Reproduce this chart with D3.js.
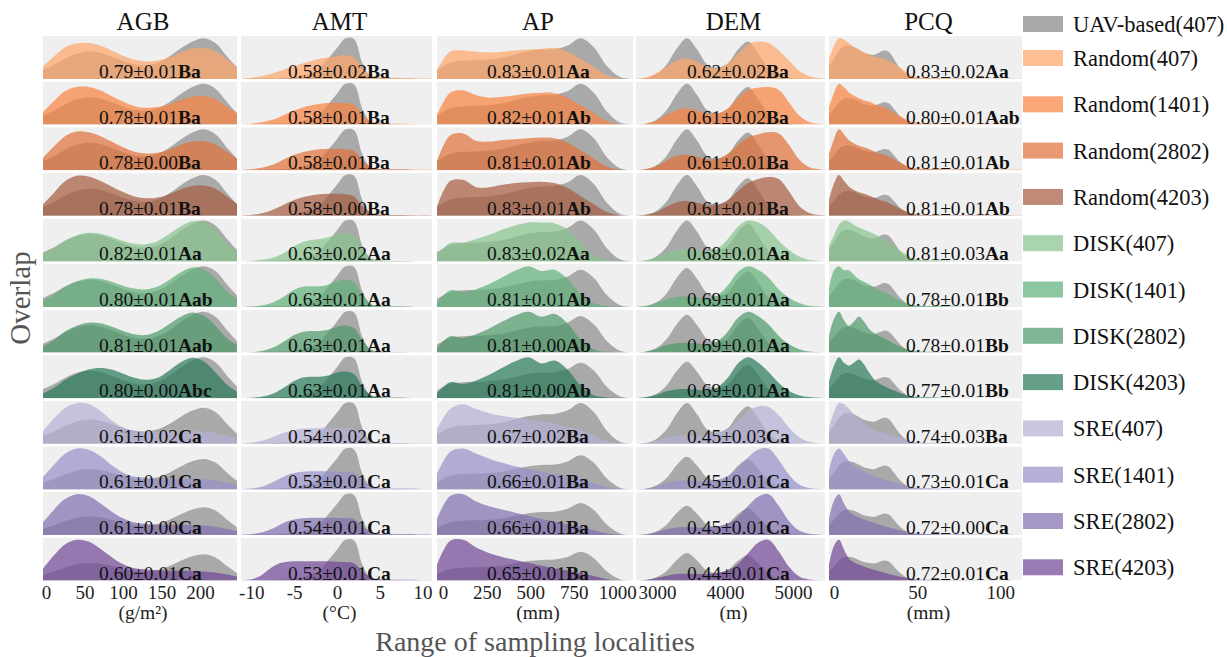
<!DOCTYPE html>
<html>
<head>
<meta charset="utf-8">
<script src="https://cdn.jsdelivr.net/npm/d3@7"></script>
<style>
  body { margin: 0; background: #fff; }
  svg { display: block; font-family: "Liberation Serif", "Times New Roman", serif; }
</style>
</head>
<body>
<div id="chart"></div>
<script>
// ---- data (density curves, arbitrary units) ----
const variables = ["AGB", "AMT", "AP", "DEM", "PCQ"];
const units = ["(g/m²)", "(°C)", "(mm)", "(m)", "(mm)"];
const groups = ["Random(407)", "Random(1401)", "Random(2802)", "Random(4203)",
  "DISK(407)", "DISK(1401)", "DISK(2802)", "DISK(4203)",
  "SRE(407)", "SRE(1401)", "SRE(2802)", "SRE(4203)"];
const referenceName = "UAV-based(407)";

const agbDomain = [-4, 248];
const agbTicks = [0, 50, 100, 150, 200];
const agbX = [-4, 10, 25, 40, 55, 70, 85, 100, 115, 130, 145, 160, 175, 190, 205, 220, 235, 248];
const agbUAV = [0.22, 0.34, 0.5, 0.62, 0.67, 0.64, 0.55, 0.44, 0.36, 0.34, 0.4, 0.55, 0.75, 0.92, 1.0, 0.88, 0.55, 0.28];
const agbSeries = [
  [0.3, 0.55, 0.78, 0.87, 0.88, 0.82, 0.7, 0.57, 0.47, 0.43, 0.45, 0.53, 0.65, 0.74, 0.76, 0.68, 0.48, 0.3],
  [0.3, 0.57, 0.82, 0.92, 0.92, 0.84, 0.7, 0.56, 0.45, 0.41, 0.43, 0.5, 0.6, 0.68, 0.7, 0.62, 0.44, 0.28],
  [0.3, 0.58, 0.84, 0.95, 0.93, 0.84, 0.7, 0.56, 0.45, 0.41, 0.43, 0.5, 0.62, 0.7, 0.71, 0.63, 0.45, 0.28],
  [0.28, 0.56, 0.85, 0.98, 0.96, 0.86, 0.72, 0.58, 0.47, 0.43, 0.45, 0.53, 0.65, 0.73, 0.74, 0.66, 0.47, 0.29],
  [0.17, 0.33, 0.52, 0.64, 0.7, 0.68, 0.6, 0.5, 0.43, 0.42, 0.5, 0.67, 0.86, 0.98, 0.97, 0.78, 0.45, 0.22],
  [0.15, 0.3, 0.5, 0.63, 0.7, 0.69, 0.62, 0.52, 0.45, 0.43, 0.5, 0.66, 0.85, 0.97, 0.92, 0.7, 0.38, 0.2],
  [0.14, 0.3, 0.52, 0.66, 0.73, 0.72, 0.64, 0.53, 0.45, 0.43, 0.52, 0.7, 0.88, 0.98, 0.9, 0.66, 0.35, 0.18],
  [0.12, 0.25, 0.45, 0.6, 0.7, 0.74, 0.7, 0.6, 0.5, 0.45, 0.5, 0.68, 0.88, 0.99, 0.9, 0.63, 0.33, 0.16],
  [0.35, 0.7, 1.0, 1.13, 1.1, 0.92, 0.65, 0.45, 0.36, 0.33, 0.32, 0.33, 0.34, 0.35, 0.34, 0.3, 0.22, 0.15],
  [0.4, 0.8, 1.18, 1.34, 1.3, 1.1, 0.8, 0.55, 0.42, 0.38, 0.36, 0.35, 0.35, 0.34, 0.33, 0.3, 0.22, 0.15],
  [0.45, 0.9, 1.3, 1.47, 1.4, 1.15, 0.85, 0.6, 0.45, 0.4, 0.37, 0.36, 0.36, 0.35, 0.34, 0.3, 0.22, 0.15],
  [0.45, 0.95, 1.38, 1.55, 1.48, 1.22, 0.9, 0.62, 0.47, 0.42, 0.39, 0.37, 0.37, 0.36, 0.35, 0.31, 0.23, 0.15]
];
const agbLabels = [["0.79±0.01", "Ba"], ["0.78±0.01", "Ba"], ["0.78±0.00", "Ba"], ["0.78±0.01", "Ba"],
  ["0.82±0.01", "Aa"], ["0.80±0.01", "Aab"], ["0.81±0.01", "Aab"], ["0.80±0.00", "Abc"],
  ["0.61±0.02", "Ca"], ["0.61±0.01", "Ca"], ["0.61±0.00", "Ca"], ["0.60±0.01", "Ca"]];

const amtDomain = [-11.2, 11.1];
const amtTicks = [-10, -5, 0, 5, 10];
const amtX = [-11, -10, -9, -8, -7, -6, -5, -4, -3, -2, -1, 0, 1, 2, 3, 4, 5, 6, 7, 8, 9, 10, 11];
const amtUAV = [0, 0.005, 0.01, 0.015, 0.02, 0.03, 0.05, 0.08, 0.14, 0.25, 0.48, 0.72, 0.95, 0.93, 0.35, 0.05, 0.02, 0.01, 0.01, 0.005, 0, 0, 0];
const amtSeries = [
  [0.01, 0.03, 0.06, 0.1, 0.16, 0.23, 0.3, 0.36, 0.42, 0.47, 0.5, 0.53, 0.55, 0.5, 0.25, 0.08, 0.04, 0.03, 0.03, 0.02, 0.02, 0.01, 0.01],
  [0.01, 0.02, 0.05, 0.09, 0.15, 0.24, 0.33, 0.4, 0.45, 0.48, 0.5, 0.5, 0.5, 0.46, 0.22, 0.07, 0.03, 0.02, 0.02, 0.02, 0.01, 0.01, 0.01],
  [0.01, 0.02, 0.05, 0.1, 0.17, 0.27, 0.36, 0.42, 0.46, 0.49, 0.5, 0.5, 0.49, 0.45, 0.22, 0.07, 0.03, 0.02, 0.02, 0.02, 0.01, 0.01, 0.01],
  [0.01, 0.02, 0.05, 0.1, 0.18, 0.28, 0.37, 0.43, 0.47, 0.5, 0.51, 0.51, 0.5, 0.45, 0.22, 0.07, 0.03, 0.02, 0.02, 0.02, 0.01, 0.01, 0.01],
  [0, 0.01, 0.03, 0.06, 0.12, 0.22, 0.35, 0.45, 0.5, 0.52, 0.56, 0.62, 0.65, 0.6, 0.3, 0.08, 0.02, 0.01, 0.01, 0.01, 0, 0, 0],
  [0, 0.01, 0.03, 0.07, 0.15, 0.27, 0.4, 0.47, 0.48, 0.48, 0.52, 0.6, 0.64, 0.58, 0.28, 0.07, 0.02, 0.01, 0.01, 0.01, 0, 0, 0],
  [0, 0.01, 0.03, 0.08, 0.16, 0.28, 0.41, 0.48, 0.5, 0.5, 0.53, 0.6, 0.63, 0.57, 0.27, 0.07, 0.02, 0.01, 0.01, 0.01, 0, 0, 0],
  [0, 0.01, 0.03, 0.07, 0.15, 0.27, 0.4, 0.48, 0.5, 0.5, 0.53, 0.6, 0.62, 0.56, 0.26, 0.07, 0.02, 0.01, 0.01, 0.01, 0, 0, 0],
  [0.01, 0.03, 0.06, 0.12, 0.2, 0.27, 0.32, 0.35, 0.36, 0.37, 0.37, 0.37, 0.37, 0.35, 0.2, 0.06, 0.03, 0.02, 0.02, 0.02, 0.01, 0.01, 0.01],
  [0.01, 0.02, 0.05, 0.12, 0.22, 0.32, 0.38, 0.41, 0.42, 0.42, 0.42, 0.41, 0.4, 0.38, 0.22, 0.07, 0.03, 0.02, 0.02, 0.02, 0.02, 0.01, 0.01],
  [0.01, 0.02, 0.05, 0.11, 0.2, 0.3, 0.36, 0.39, 0.4, 0.4, 0.4, 0.4, 0.39, 0.37, 0.2, 0.06, 0.03, 0.02, 0.02, 0.02, 0.02, 0.01, 0.01],
  [0.01, 0.03, 0.1, 0.25, 0.38, 0.43, 0.45, 0.45, 0.45, 0.45, 0.45, 0.44, 0.43, 0.4, 0.22, 0.07, 0.03, 0.02, 0.02, 0.02, 0.02, 0.01, 0.01]
];
const amtLabels = [["0.58±0.02", "Ba"], ["0.58±0.01", "Ba"], ["0.58±0.01", "Ba"], ["0.58±0.00", "Ba"],
  ["0.63±0.02", "Aa"], ["0.63±0.01", "Aa"], ["0.63±0.01", "Aa"], ["0.63±0.01", "Aa"],
  ["0.54±0.02", "Ca"], ["0.53±0.01", "Ca"], ["0.54±0.01", "Ca"], ["0.53±0.01", "Ca"]];

const apDomain = [-35, 1090];
const apTicks = [0, 250, 500, 750, 1000];
const apX = [-35, 40, 115, 190, 265, 340, 415, 490, 565, 640, 715, 790, 865, 940, 1015, 1090];
const apUAV = [0.22, 0.4, 0.45, 0.46, 0.48, 0.52, 0.6, 0.68, 0.72, 0.73, 0.82, 1.0, 0.78, 0.32, 0.05, 0];
const apSeries = [
  [0.22, 0.67, 0.7, 0.67, 0.65, 0.67, 0.7, 0.72, 0.74, 0.76, 0.67, 0.49, 0.3, 0.09, 0.01, 0],
  [0.22, 0.78, 0.84, 0.72, 0.66, 0.68, 0.72, 0.76, 0.78, 0.77, 0.66, 0.48, 0.28, 0.09, 0.01, 0],
  [0.22, 0.85, 0.9, 0.72, 0.7, 0.74, 0.76, 0.78, 0.8, 0.78, 0.67, 0.48, 0.28, 0.09, 0.01, 0],
  [0.22, 0.85, 0.88, 0.7, 0.7, 0.76, 0.8, 0.82, 0.83, 0.8, 0.68, 0.48, 0.28, 0.09, 0.01, 0],
  [0.15, 0.45, 0.46, 0.55, 0.65, 0.78, 0.88, 0.95, 0.95, 0.93, 0.78, 0.45, 0.15, 0.04, 0.01, 0],
  [0.12, 0.45, 0.4, 0.48, 0.62, 0.8, 0.98, 1.1, 0.97, 1.0, 0.75, 0.35, 0.1, 0.03, 0.01, 0],
  [0.12, 0.45, 0.4, 0.5, 0.66, 0.85, 1.02, 1.12, 0.98, 1.06, 0.8, 0.35, 0.08, 0.02, 0.01, 0],
  [0.14, 0.45, 0.4, 0.5, 0.66, 0.86, 1.04, 1.15, 0.98, 1.06, 0.8, 0.35, 0.08, 0.02, 0.01, 0],
  [0.35, 0.85, 0.97, 0.85, 0.75, 0.68, 0.64, 0.6, 0.55, 0.5, 0.42, 0.33, 0.2, 0.07, 0.01, 0],
  [0.45, 1.1, 1.2, 1.05, 0.9, 0.78, 0.68, 0.6, 0.52, 0.46, 0.38, 0.3, 0.18, 0.06, 0.01, 0],
  [0.5, 1.22, 1.28, 1.05, 0.9, 0.8, 0.7, 0.6, 0.5, 0.42, 0.34, 0.26, 0.16, 0.05, 0.01, 0],
  [0.55, 1.38, 1.42, 1.15, 0.95, 0.82, 0.72, 0.62, 0.52, 0.43, 0.35, 0.26, 0.16, 0.05, 0.01, 0]
];
const apLabels = [["0.83±0.01", "Aa"], ["0.82±0.01", "Ab"], ["0.81±0.01", "Ab"], ["0.83±0.01", "Ab"],
  ["0.83±0.02", "Aa"], ["0.81±0.01", "Ab"], ["0.81±0.00", "Ab"], ["0.81±0.00", "Ab"],
  ["0.67±0.02", "Ba"], ["0.66±0.01", "Ba"], ["0.66±0.01", "Ba"], ["0.65±0.01", "Ba"]];

const demDomain = [2690, 5470];
const demTicks = [3000, 4000, 5000];
const demX = [2690, 2840, 2990, 3140, 3290, 3440, 3590, 3740, 3890, 4040, 4190, 4340, 4490, 4640, 4790, 4940, 5090, 5240, 5390, 5470];
const demUAV = [0, 0.02, 0.12, 0.35, 0.75, 1.0, 0.72, 0.35, 0.28, 0.38, 0.72, 0.92, 0.62, 0.25, 0.06, 0.02, 0.01, 0, 0, 0];
const demSeries = [
  [0, 0.04, 0.14, 0.3, 0.45, 0.5, 0.42, 0.28, 0.26, 0.38, 0.62, 0.85, 0.92, 0.88, 0.7, 0.45, 0.2, 0.07, 0.02, 0.01],
  [0, 0.03, 0.1, 0.24, 0.36, 0.4, 0.34, 0.27, 0.27, 0.4, 0.65, 0.85, 0.9, 0.92, 0.85, 0.55, 0.22, 0.06, 0.02, 0.01],
  [0, 0.03, 0.1, 0.24, 0.35, 0.38, 0.33, 0.27, 0.28, 0.4, 0.62, 0.8, 0.88, 0.93, 0.9, 0.62, 0.26, 0.07, 0.02, 0.01],
  [0, 0.03, 0.09, 0.22, 0.33, 0.36, 0.32, 0.26, 0.27, 0.38, 0.6, 0.8, 0.9, 0.95, 0.9, 0.6, 0.24, 0.07, 0.02, 0.01],
  [0, 0.03, 0.1, 0.22, 0.28, 0.3, 0.28, 0.25, 0.32, 0.55, 0.85, 1.0, 0.95, 0.78, 0.5, 0.28, 0.12, 0.04, 0.01, 0],
  [0, 0.03, 0.1, 0.2, 0.26, 0.27, 0.25, 0.22, 0.3, 0.55, 0.9, 1.05, 0.95, 0.75, 0.45, 0.24, 0.1, 0.03, 0.01, 0],
  [0, 0.03, 0.1, 0.2, 0.25, 0.26, 0.24, 0.22, 0.3, 0.55, 0.92, 1.08, 0.96, 0.74, 0.44, 0.22, 0.09, 0.03, 0.01, 0],
  [0, 0.03, 0.09, 0.19, 0.24, 0.25, 0.23, 0.21, 0.3, 0.56, 0.95, 1.12, 0.97, 0.72, 0.42, 0.2, 0.08, 0.03, 0.01, 0],
  [0, 0.02, 0.08, 0.16, 0.2, 0.2, 0.2, 0.22, 0.26, 0.35, 0.55, 0.8, 0.92, 0.9, 0.7, 0.4, 0.16, 0.05, 0.01, 0],
  [0, 0.03, 0.1, 0.2, 0.26, 0.27, 0.26, 0.26, 0.3, 0.42, 0.65, 0.98, 1.22, 1.25, 0.9, 0.45, 0.15, 0.04, 0.01, 0],
  [0, 0.03, 0.1, 0.2, 0.26, 0.27, 0.26, 0.26, 0.3, 0.4, 0.62, 1.0, 1.32, 1.4, 1.0, 0.48, 0.15, 0.04, 0.01, 0],
  [0, 0.03, 0.09, 0.18, 0.24, 0.25, 0.24, 0.24, 0.28, 0.38, 0.6, 1.0, 1.38, 1.48, 1.05, 0.5, 0.15, 0.04, 0.01, 0]
];
const demLabels = [["0.62±0.02", "Ba"], ["0.61±0.02", "Ba"], ["0.61±0.01", "Ba"], ["0.61±0.01", "Ba"],
  ["0.68±0.01", "Aa"], ["0.69±0.01", "Aa"], ["0.69±0.01", "Aa"], ["0.69±0.01", "Aa"],
  ["0.45±0.03", "Ca"], ["0.45±0.01", "Ca"], ["0.45±0.01", "Ca"], ["0.44±0.01", "Ca"]];

const pcqDomain = [-3, 113];
const pcqTicks = [0, 50, 100];
const pcqX = [-3, 0, 3, 6, 9, 12, 15, 18, 21, 24, 27, 30, 33, 36, 40, 45, 50, 60, 70, 80, 90, 100, 113];
const pcqUAV = [0.35, 0.55, 0.78, 0.9, 0.92, 0.88, 0.8, 0.72, 0.68, 0.66, 0.72, 0.78, 0.74, 0.55, 0.28, 0.08, 0.02, 0.01, 0, 0, 0, 0, 0];
const pcqSeries = [
  [0.55, 0.9, 1.12, 1.08, 0.98, 0.88, 0.8, 0.73, 0.67, 0.62, 0.58, 0.55, 0.5, 0.42, 0.3, 0.14, 0.05, 0.03, 0.02, 0.02, 0.01, 0.01, 0.01],
  [0.6, 1.1, 1.42, 1.3, 1.12, 1.0, 0.92, 0.85, 0.8, 0.72, 0.65, 0.6, 0.52, 0.42, 0.28, 0.14, 0.06, 0.04, 0.03, 0.03, 0.02, 0.02, 0.02],
  [0.6, 1.15, 1.5, 1.32, 1.1, 0.98, 0.9, 0.84, 0.78, 0.7, 0.62, 0.57, 0.5, 0.4, 0.27, 0.13, 0.06, 0.04, 0.03, 0.03, 0.02, 0.02, 0.02],
  [0.6, 1.2, 1.52, 1.3, 1.08, 0.96, 0.88, 0.82, 0.76, 0.68, 0.6, 0.55, 0.48, 0.38, 0.26, 0.12, 0.05, 0.03, 0.02, 0.02, 0.02, 0.02, 0.01],
  [0.45, 0.75, 1.05, 1.18, 1.15, 1.05, 0.98, 0.92, 0.86, 0.8, 0.72, 0.64, 0.55, 0.45, 0.3, 0.15, 0.06, 0.03, 0.02, 0.01, 0.01, 0.01, 0],
  [0.6, 1.2, 1.33, 1.2, 1.2, 1.05, 0.9, 0.82, 0.74, 0.64, 0.56, 0.5, 0.42, 0.32, 0.2, 0.1, 0.05, 0.03, 0.02, 0.01, 0.01, 0.01, 0],
  [0.6, 1.2, 1.45, 1.15, 0.95, 1.1, 1.28, 1.1, 0.85, 0.7, 0.6, 0.52, 0.42, 0.32, 0.2, 0.1, 0.05, 0.03, 0.02, 0.01, 0.01, 0.01, 0],
  [0.6, 1.2, 1.5, 1.3, 1.2, 1.3, 1.42, 1.25, 0.95, 0.7, 0.55, 0.45, 0.36, 0.28, 0.18, 0.09, 0.04, 0.03, 0.02, 0.01, 0.01, 0.01, 0],
  [0.5, 0.95, 1.22, 1.18, 1.05, 0.88, 0.75, 0.62, 0.5, 0.42, 0.36, 0.32, 0.28, 0.24, 0.18, 0.1, 0.05, 0.03, 0.02, 0.02, 0.01, 0.01, 0],
  [0.6, 1.15, 1.33, 1.15, 0.92, 0.78, 0.68, 0.58, 0.5, 0.44, 0.38, 0.33, 0.28, 0.23, 0.17, 0.1, 0.05, 0.03, 0.02, 0.02, 0.01, 0.01, 0],
  [0.6, 1.25, 1.48, 1.15, 0.85, 0.72, 0.64, 0.56, 0.5, 0.44, 0.38, 0.33, 0.28, 0.23, 0.17, 0.1, 0.05, 0.03, 0.02, 0.02, 0.01, 0.01, 0],
  [0.6, 1.35, 1.58, 1.2, 0.85, 0.7, 0.62, 0.55, 0.48, 0.42, 0.36, 0.31, 0.26, 0.21, 0.15, 0.09, 0.04, 0.03, 0.02, 0.02, 0.01, 0.01, 0]
];
const pcqLabels = [["0.83±0.02", "Aa"], ["0.80±0.01", "Aab"], ["0.81±0.01", "Ab"], ["0.81±0.01", "Ab"],
  ["0.81±0.03", "Aa"], ["0.78±0.01", "Bb"], ["0.78±0.01", "Bb"], ["0.77±0.01", "Bb"],
  ["0.74±0.03", "Ba"], ["0.73±0.01", "Ca"], ["0.72±0.00", "Ca"], ["0.72±0.01", "Ca"]];

// ---- styling ----
const uavColor = "#a9a9a9";
const groupColors = ["#fca66a", "#f88342", "#e0733b", "#a65e43",
  "#88c38d", "#62b07c", "#4f9a6a", "#2c7b5c",
  "#b4b0d4", "#9791c7", "#8370b0", "#734999"];
const fillAlpha = 0.72;
const panelFill = "#efefef";

// layout
const width = 1227, height = 657;
const panelX = [[43, 237], [241, 432], [437, 633], [636, 825], [829, 1022]];
const labelOffset = [56, 47, 50, 51, 77]; // px from panel left to the overlap label
const rowTop = 36, rowStep = 45.6, rowHeight = 43;

const columns = [
  { name: variables[0], unit: units[0], domain: agbDomain, ticks: agbTicks, x: agbX, uav: agbUAV, series: agbSeries, labels: agbLabels },
  { name: variables[1], unit: units[1], domain: amtDomain, ticks: amtTicks, x: amtX, uav: amtUAV, series: amtSeries, labels: amtLabels },
  { name: variables[2], unit: units[2], domain: apDomain, ticks: apTicks, x: apX, uav: apUAV, series: apSeries, labels: apLabels },
  { name: variables[3], unit: units[3], domain: demDomain, ticks: demTicks, x: demX, uav: demUAV, series: demSeries, labels: demLabels },
  { name: variables[4], unit: units[4], domain: pcqDomain, ticks: pcqTicks, x: pcqX, uav: pcqUAV, series: pcqSeries, labels: pcqLabels }
];

const svg = d3.select("#chart").append("svg")
    .attr("width", width)
    .attr("height", height)
    .attr("viewBox", [0, 0, width, height]);

svg.append("rect")
    .attr("width", width)
    .attr("height", height)
    .attr("fill", "#fff");

const defs = svg.append("defs");
const bottom = rowTop + (groups.length - 1) * rowStep + rowHeight;

columns.forEach((col, ci) => {
  const [x0, x1] = panelX[ci];
  const x = d3.scaleLinear().domain(col.domain).range([x0, x1]);
  const g = svg.append("g").attr("class", "col-" + col.name);

  // column header
  g.append("text")
      .attr("x", (x0 + x1) / 2 + 3)
      .attr("y", 30)
      .attr("text-anchor", "middle")
      .attr("font-size", 25)
      .attr("fill", "#111")
      .text(col.name);

  groups.forEach((grp, ri) => {
    const top = rowTop + ri * rowStep;
    const base = top + rowHeight;
    const vals = col.series[ri];
    const ymax = Math.max(d3.max(vals), d3.max(col.uav));
    const y = d3.scaleLinear().domain([0, ymax / 0.95]).range([base, top]);

    const clipId = `clip-${ci}-${ri}`;
    defs.append("clipPath")
        .attr("id", clipId)
      .append("rect")
        .attr("x", x0)
        .attr("y", top)
        .attr("width", x1 - x0)
        .attr("height", rowHeight);

    const cell = g.append("g").attr("clip-path", `url(#${clipId})`);

    cell.append("rect")
        .attr("x", x0)
        .attr("y", top)
        .attr("width", x1 - x0)
        .attr("height", rowHeight)
        .attr("fill", panelFill);

    const area = d3.area()
        .x(d => x(d[0]))
        .y0(base)
        .y1(d => y(Math.max(0, d[1])))
        .curve(d3.curveCatmullRom.alpha(0.5));

    // reference (UAV) density first, sampled group on top, semi-transparent
    cell.append("path")
        .datum(d3.zip(col.x, col.uav))
        .attr("d", area)
        .attr("fill", uavColor);

    cell.append("path")
        .datum(d3.zip(col.x, vals))
        .attr("d", area)
        .attr("fill", groupColors[ri])
        .attr("fill-opacity", fillAlpha);

    const [num, letters] = col.labels[ri];
    const label = g.append("text")
        .attr("x", x0 + labelOffset[ci])
        .attr("y", base - 1)
        .attr("font-size", 19.5)
        .attr("fill", "#111");
    label.append("tspan").text(num);
    label.append("tspan").attr("font-weight", "bold").text(letters);
  });

  // bottom axis, no tick marks, plain numbers
  const axis = g.append("g")
      .attr("transform", `translate(0,${bottom})`)
      .call(d3.axisBottom(x)
        .tickValues(col.ticks)
        .tickFormat(d => String(d))
        .tickSize(0)
        .tickPadding(5));
  axis.select(".domain").remove();
  axis.attr("font-family", null)
      .attr("font-size", 19);
  axis.selectAll("text").attr("fill", "#222");

  g.append("text")
      .attr("x", (x0 + x1) / 2 + 3)
      .attr("y", 619)
      .attr("text-anchor", "middle")
      .attr("font-size", 19.5)
      .attr("fill", "#222")
      .text(col.unit);
});

// axis titles
svg.append("text")
    .attr("x", 535)
    .attr("y", 651)
    .attr("text-anchor", "middle")
    .attr("font-size", 28)
    .attr("fill", "#555")
    .text("Range of sampling localities");

svg.append("text")
    .attr("transform", "translate(30,298) rotate(-90)")
    .attr("text-anchor", "middle")
    .attr("font-size", 29)
    .attr("fill", "#555")
    .text("Overlap");

// legend
const legendNames = [referenceName].concat(groups);
const legendY = [24].concat(groups.map((d, i) => 58 + i * 46.3));
const legend = svg.append("g").attr("class", "legend");
legendNames.forEach((name, i) => {
  legend.append("rect")
      .attr("x", 1023)
      .attr("y", legendY[i] - 8)
      .attr("width", 40)
      .attr("height", 16)
      .attr("fill", i === 0 ? uavColor : groupColors[i - 1])
      .attr("fill-opacity", i === 0 ? 1 : fillAlpha);
  legend.append("text")
      .attr("x", 1073)
      .attr("y", legendY[i] + 8)
      .attr("font-size", 22.5)
      .attr("fill", "#111")
      .text(name);
});
</script>
</body>
</html>
